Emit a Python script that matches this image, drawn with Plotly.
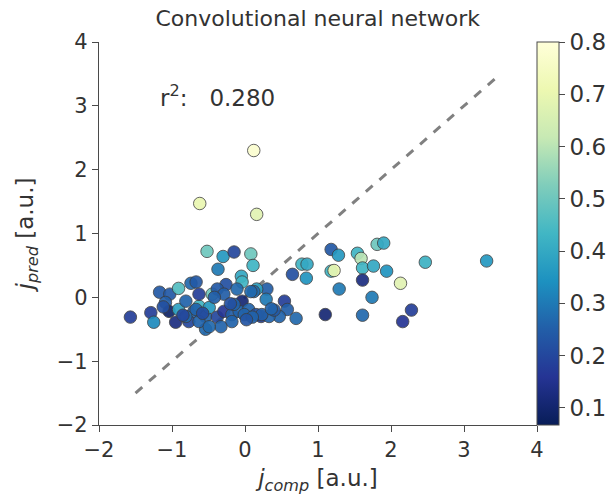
import plotly.graph_objects as go

# Data
j_comp = [0.12, -0.62, 0.16,
          1.18, 1.28, 1.54, 1.59, 1.81, 1.90, 2.47, 3.31, 0.78, 0.85, 0.84, 1.18, 1.22,
          1.61, 1.76, 1.94, 1.61, 2.13, 1.29, 1.74, 1.10, 1.61, 2.16, 2.28, 0.65, 0.30,
          0.29, 0.54, 0.58, 0.47, 0.70, 0.22, 0.33, 0.08, 0.11, 0.16, 0.12,
          -0.52, -0.30, -0.15, -0.37, -0.05, -0.04, -1.17, -1.03, -0.91, -0.74, -0.67,
          -1.09, -0.45, -0.26, -0.38, -0.11, 0.08, -1.29, -1.25, -1.04, -0.95, -0.91,
          -0.81, -0.70, -0.63, -0.54, -0.49, -0.54, -0.38, -0.29, -0.18, -0.04, -0.08,
          0.05, 0.15, 0.23, -0.18, -0.33, -0.77, -0.63, -0.49, -1.57, -0.29, -0.63,
          -0.15, -0.67, -0.81, -0.01, 0.10,
          -0.20, 0.40, -0.85, -0.42, 0.02, 0.36, -1.12, -0.58]
j_pred = [2.30, 1.47, 1.30,
          0.75, 0.66, 0.69, 0.61, 0.83, 0.85, 0.55, 0.57, 0.52, 0.52, 0.30, 0.41, 0.42,
          0.46, 0.49, 0.41, 0.27, 0.22, 0.13, 0.00, -0.27, -0.28, -0.38, -0.20, 0.36, 0.13,
          -0.03, -0.06, -0.19, -0.30, -0.33, -0.30, -0.30, 0.68, 0.50, 0.13, 0.09,
          0.72, 0.64, 0.71, 0.44, 0.33, 0.24, 0.08, 0.05, 0.14, 0.22, 0.24,
          -0.08, 0.05, 0.20, 0.13, 0.13, 0.09, -0.24, -0.39, -0.22, -0.39, -0.19,
          -0.06, -0.22, -0.14, -0.30, -0.16, -0.50, -0.31, -0.22, -0.27, -0.06, -0.22,
          -0.19, -0.27, -0.27, -0.38, -0.46, -0.38, -0.38, -0.46, -0.31, 0.05, 0.05,
          -0.11, -0.19, -0.30, -0.27, -0.31,
          -0.10, -0.20, -0.28, 0.00, -0.35, -0.18, -0.15, -0.25]
score = [0.78, 0.70, 0.68,
         0.24, 0.36, 0.43, 0.60, 0.50, 0.40, 0.42, 0.36, 0.43, 0.40, 0.35, 0.43, 0.70,
         0.43, 0.40, 0.35, 0.13, 0.68, 0.30, 0.30, 0.11, 0.27, 0.16, 0.18, 0.22, 0.25,
         0.30, 0.18, 0.25, 0.26, 0.27, 0.18, 0.26, 0.50, 0.43, 0.38, 0.27,
         0.50, 0.36, 0.20, 0.30, 0.40, 0.43, 0.24, 0.24, 0.46, 0.27, 0.24,
         0.25, 0.50, 0.22, 0.24, 0.27, 0.27, 0.18, 0.33, 0.09, 0.13, 0.38,
         0.26, 0.26, 0.43, 0.26, 0.36, 0.27, 0.20, 0.16, 0.25, 0.11, 0.26,
         0.26, 0.22, 0.25, 0.26, 0.26, 0.20, 0.26, 0.27, 0.18, 0.25, 0.18,
         0.26, 0.26, 0.27, 0.26, 0.26,
         0.22, 0.24, 0.20, 0.25, 0.23, 0.26, 0.22, 0.21]
diag_x = [-1.5, 3.5]
diag_y = [-1.5, 3.5]
x_ticks = [-2, -1, 0, 1, 2, 3, 4]
y_ticks = [-2, -1, 0, 1, 2, 3, 4]
tick_text = ["\u22122", "\u22121", "0", "1", "2", "3", "4"]
cbar_ticks = [0.1, 0.2, 0.3, 0.4, 0.5, 0.6, 0.7, 0.8]
r2_text = "r<sup>2</sup>:   0.280"
title_text = "Convolutional neural network"

ylgnbu_r = ["#081d58", "#253494", "#225ea8", "#1d91c0", "#41b6c4",
            "#7fcdbb", "#c7e9b4", "#edf8b1", "#ffffd9"]
colorscale = [[i / (len(ylgnbu_r) - 1), c] for i, c in enumerate(ylgnbu_r)]

TXT = "#333333"
AX = "#4a4a4a"
FONT = "DejaVu Sans"

fig = go.Figure()
fig.add_trace(go.Scatter(
    x=diag_x, y=diag_y, mode="lines",
    line=dict(color="#808080", width=3, dash="dash"),
    hoverinfo="skip", showlegend=False))
fig.add_trace(go.Scatter(
    x=j_comp, y=j_pred, mode="markers", showlegend=False,
    marker=dict(size=12.5, color=score, colorscale=colorscale,
                cmin=0.067, cmax=0.80, opacity=0.92,
                line=dict(color="rgba(60,60,60,0.85)", width=1),
                colorbar=dict(x=1.0, xanchor="left", xpad=0, ypad=0,
                              y=0.5, yanchor="middle",
                              len=1, lenmode="fraction", thickness=22,
                              outlinewidth=1, outlinecolor=AX,
                              tickvals=cbar_ticks, ticks="outside", ticklen=6,
                              tickcolor=AX,
                              tickfont=dict(family=FONT, size=23, color=TXT)))))

fig.add_annotation(x=-1.19, y=3.16, xref="x", yref="y", text=r2_text,
                   showarrow=False, xanchor="left", yanchor="middle",
                   font=dict(family=FONT, size=23, color=TXT))

axis_common = dict(range=[-2, 4], ticktext=tick_text,
                   showgrid=False, zeroline=False, showline=True, linecolor=AX,
                   linewidth=1.3, ticks="outside", ticklen=6, tickcolor=AX,
                   tickfont=dict(family=FONT, size=21, color=TXT))

fig.update_layout(
    width=611, height=495,
    margin=dict(l=99, r=74, t=42, b=70, autoexpand=False),
    paper_bgcolor="white", plot_bgcolor="white",
    title=dict(text=title_text, x=0.52, xanchor="center",
               y=1 - 18 / 495, yanchor="middle",
               font=dict(family=FONT, size=22, color=TXT)),
    font=dict(family=FONT, color=TXT),
    xaxis=dict(tickvals=x_ticks, **axis_common,
               title=dict(text="<i>j</i><sub><i>comp</i></sub> [a.u.]", standoff=12,
                          font=dict(family=FONT, size=23, color=TXT))),
    yaxis=dict(tickvals=y_ticks, **axis_common,
               title=dict(text="<i>j</i><sub><i>pred</i></sub> [a.u.]", standoff=16,
                          font=dict(family=FONT, size=23, color=TXT))),
)

fig.write_html("out.html")
